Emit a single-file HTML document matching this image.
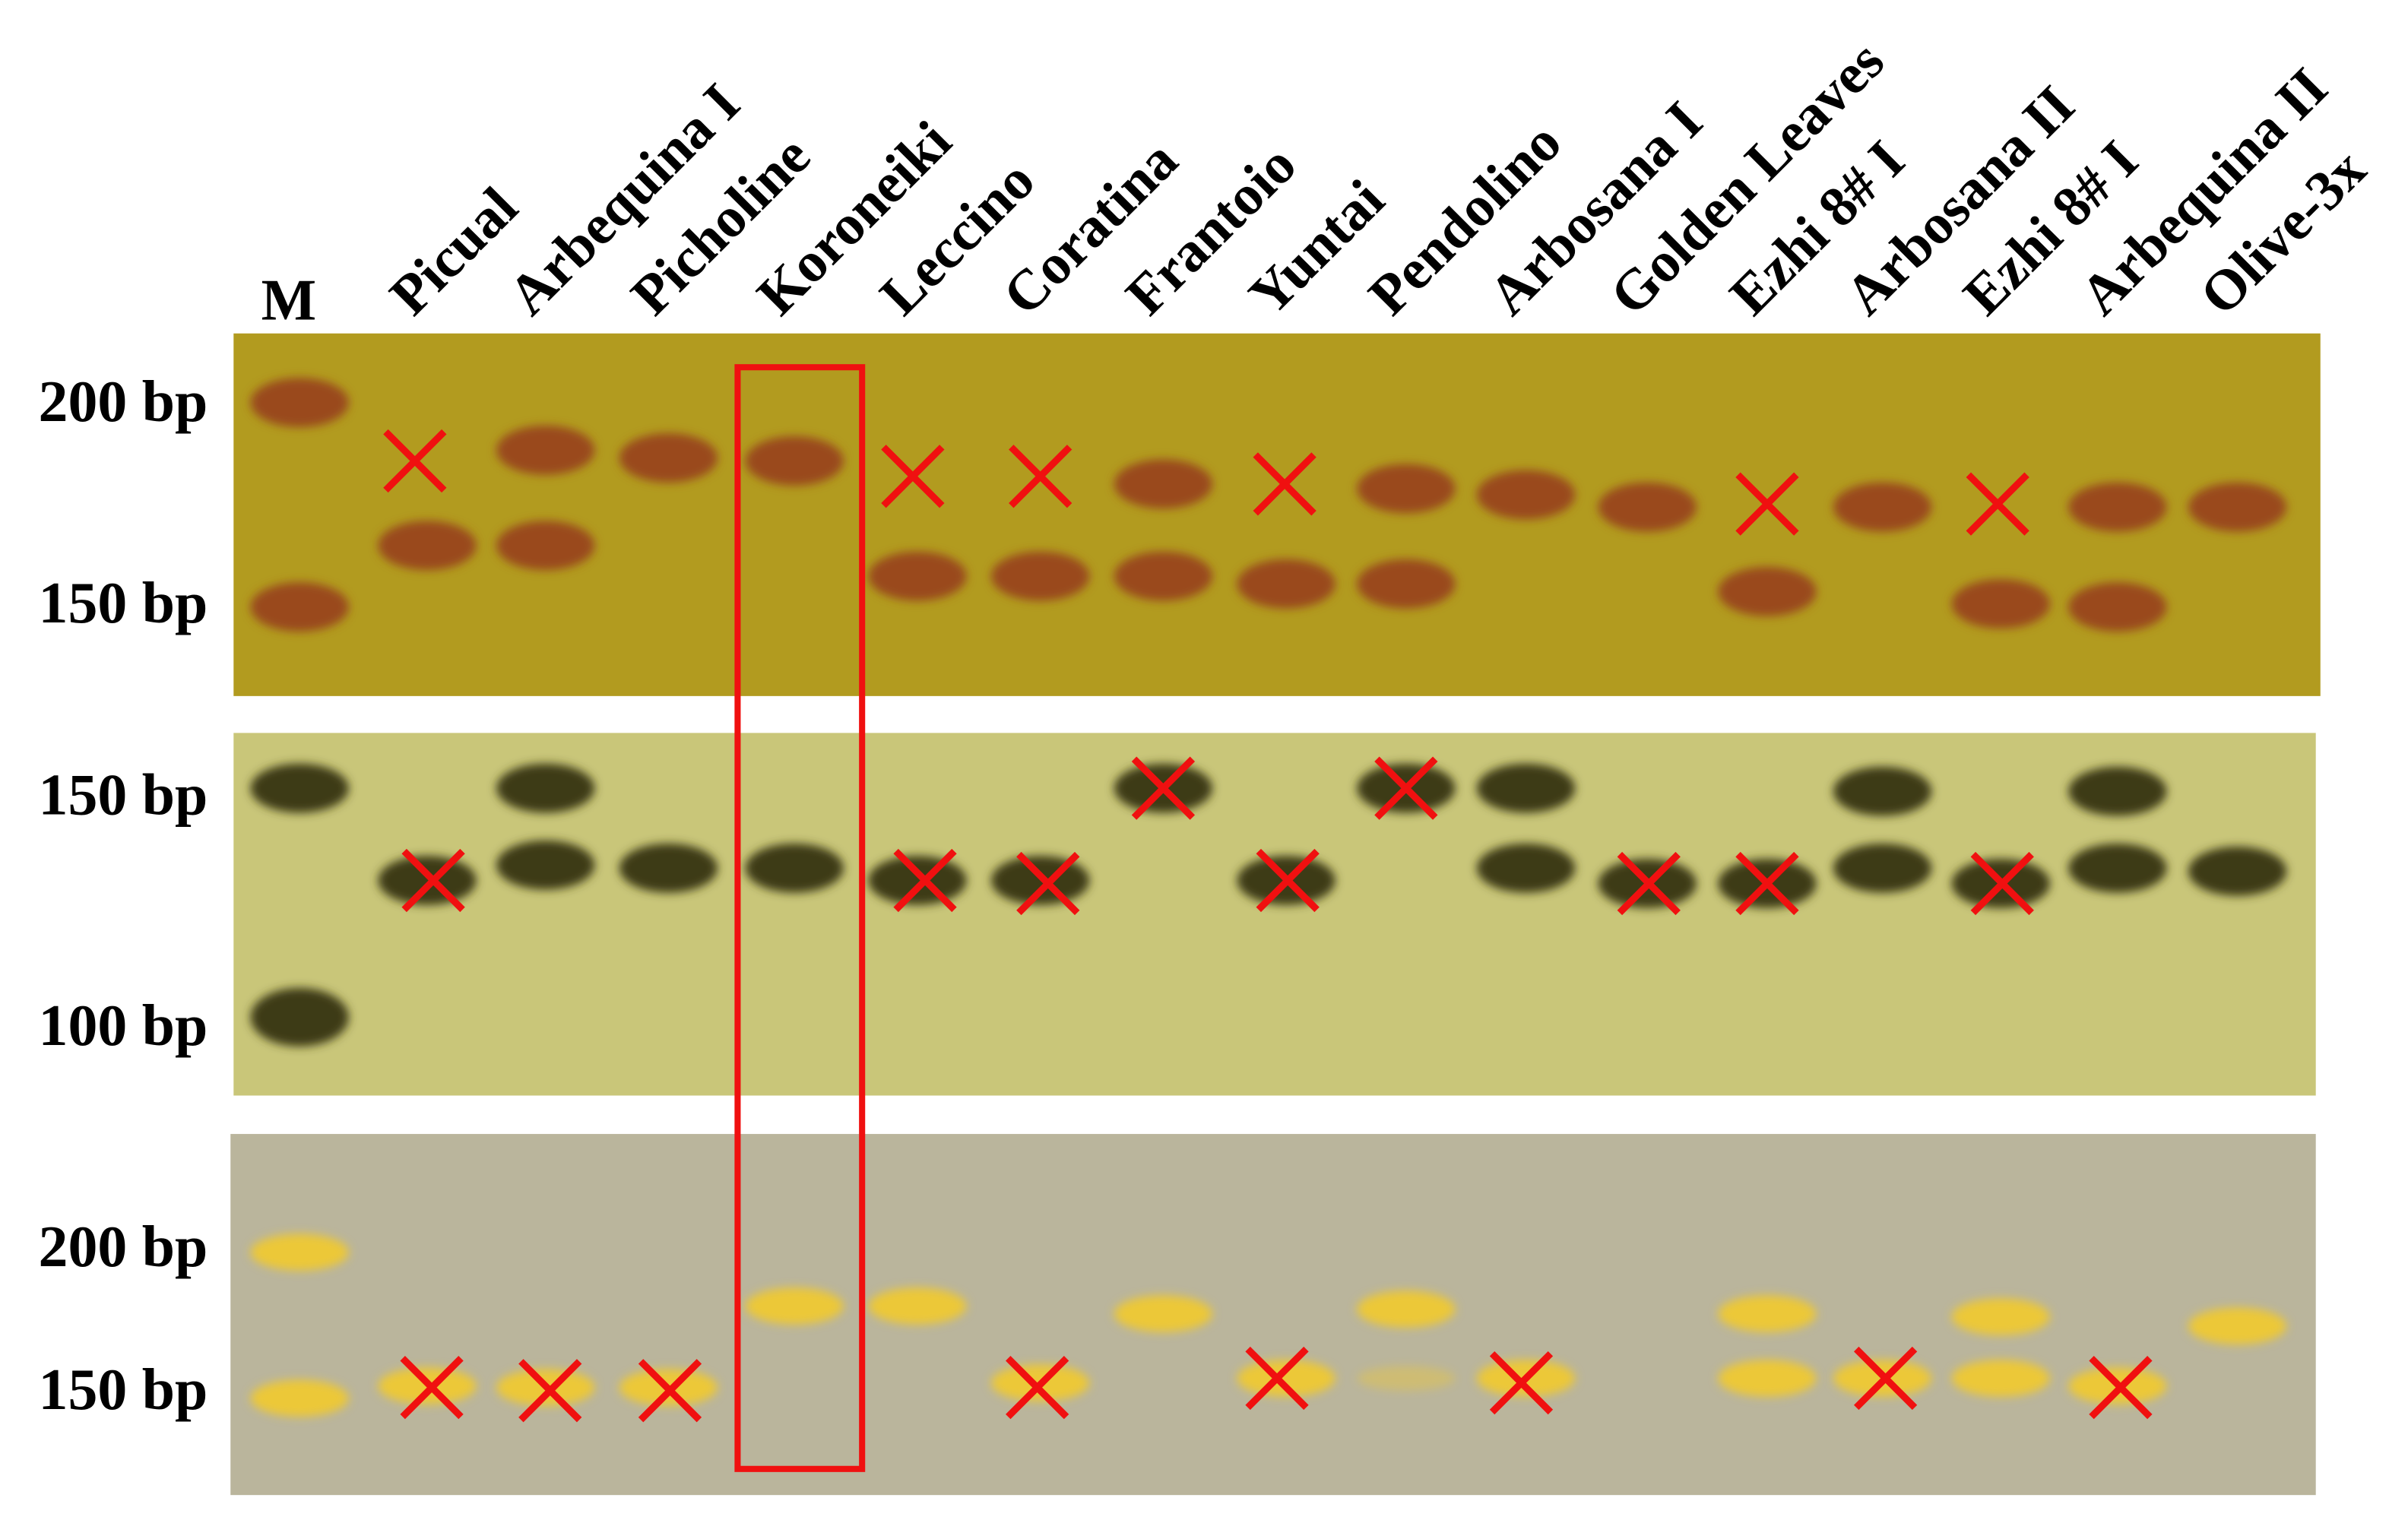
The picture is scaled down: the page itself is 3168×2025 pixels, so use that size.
<!DOCTYPE html>
<html><head><meta charset="utf-8"><style>html,body{margin:0;padding:0;background:#fff}svg{display:block}</style></head>
<body>
<svg id="fig" width="3168" height="2025" viewBox="0 0 1567 1001.6" preserveAspectRatio="none" xmlns="http://www.w3.org/2000/svg">
<defs>
<filter id="blur" x="-50%" y="-50%" width="200%" height="200%"><feGaussianBlur stdDeviation="3"/></filter>
</defs>
<rect x="152" y="217" width="1358" height="236" fill="#b29b1f"/>
<rect x="152" y="477" width="1355" height="236" fill="#c9c679"/>
<rect x="150" y="738" width="1357" height="235" fill="#bab59c"/>
<g id="bands"></g>
<g id="marks"></g>
<g id="labels" font-family="Liberation Serif, serif" font-weight="bold" fill="#000"></g>
<rect x="480" y="239" width="81" height="717" fill="none" stroke="#f01010" stroke-width="4"/>
</svg>
<script>
const lanes = ["M","Picual","Arbequina I","Picholine","Koroneiki","Leccino","Coratina","Frantoio","Yuntai","Pendolino","Arbosana I","Golden Leaves","Ezhi 8# I","Arbosana II","Ezhi 8# I","Arbequina II","Olive-3x"];
const laneX = [195,278,355,435,517,597,677,757,837,915,993,1072,1150,1225,1302,1378,1456];
const bands1 = [[262,395],[355],[293,355],[298],[300],[375],[375],[315,375],[380],[318,380],[322],[330],[385],[330],[393],[330,395],[330]];
const bands2 = [[513,662],[573],[513,563],[565],[565],[573],[573],[513],[573],[513],[513,565],[575],[575],[515,565],[575],[515,565],[567]];
const bands3 = [[815,910],[902],[903],[903],[850],[850],[900],[855],[897],[852],[897],[],[855,897],[897],[857,897],[902],[863]];
const faint3 = [[9,897]];
const cross1 = [[1,270,300],[5,594,310],[6,677,310],[8,836,315],[12,1150,328],[14,1300,328]];
const cross2 = [[1,282,573],[5,602,573],[6,682,575],[7,757,513],[8,838,573],[9,915,513],[11,1073,575],[12,1150,575],[14,1303,575]];
const cross3 = [[1,281,903],[2,358,905],[3,436,905],[6,675,903],[8,831,897],[10,990,900],[13,1227,897],[15,1380,903]];
const sizeLabels = [["200 bp",262],["150 bp",393],["150 bp",518],["100 bp",668],["200 bp",812],["150 bp",905]];
const NS="http://www.w3.org/2000/svg";
const bg=document.getElementById('bands'), mg=document.getElementById('marks'), lg=document.getElementById('labels');
function band(x,y,color,h,name,op){
  const e=document.createElementNS(NS,'ellipse');
  e.setAttribute('cx',x);e.setAttribute('cy',y);e.setAttribute('rx',32);e.setAttribute('ry',h);
  e.setAttribute('fill',color);e.setAttribute('filter','url(#blur)');
  if(op)e.setAttribute('opacity',op);
  
  
  bg.appendChild(e);
}
laneX.forEach((x,i)=>{
  bands1[i].forEach(y=>band(x,y,'#9a4a1c',16,'band-panel1'));
  bands2[i].forEach(y=>band(x,y,'#3c3a14',i===0&&y>600?19:16,'band-panel2'));
  bands3[i].forEach(y=>band(x,y,'#ecc838',12,'band-panel3'));
});
faint3.forEach(([i,y])=>band(laneX[i],y,'#ecc838',8,'band-panel3-faint',0.4));
function cross(c){
  const [,x,y]=c, s=19;
  const p=document.createElementNS(NS,'path');
  p.setAttribute('d',`M${x-s} ${y-s}L${x+s} ${y+s}M${x+s} ${y-s}L${x-s} ${y+s}`);
  p.setAttribute('stroke','#f01010');p.setAttribute('stroke-width','4.5');
  
  
  mg.appendChild(p);
}
cross1.forEach(cross);cross2.forEach(cross);cross3.forEach(cross);
lanes.forEach((n,i)=>{
  const t=document.createElementNS(NS,'text');
  t.textContent=n;
  if(i===0){t.setAttribute('x',laneX[0]-25);t.setAttribute('y',208);t.setAttribute('font-size',38);}
  else{const x=laneX[i]-9,y=207;t.setAttribute('transform',`translate(${x},${y}) rotate(-45)`);t.setAttribute('font-size',37);}
  
  
  lg.appendChild(t);
});
sizeLabels.forEach(([s,y])=>{
  const t=document.createElementNS(NS,'text');
  t.textContent=s;t.setAttribute('x',25);t.setAttribute('y',y+12);t.setAttribute('font-size',38.5);
  
  
  lg.appendChild(t);
});
</script>
</body></html>
